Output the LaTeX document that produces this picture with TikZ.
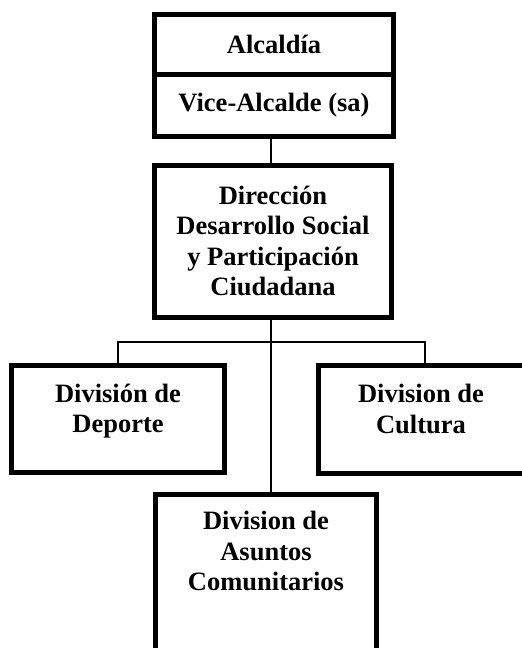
\documentclass[tikz,border=0pt]{standalone}
\usepackage{fontspec}
\setmainfont{Liberation Serif}
\begin{document}
\begin{tikzpicture}[x=1pt,y=-1pt,
  box/.style={draw=black,line width=5pt,inner sep=0pt,outer sep=0pt,rectangle},
  lbl/.style={font=\fontsize{26.5}{30.5}\selectfont\bfseries,align=center,inner sep=0pt},
  conn/.style={draw=black,line width=2pt}]
\useasboundingbox (0,0) rectangle (522,648);
% top box sections
\node[box,lbl,minimum width=239pt,minimum height=60pt] (alc) at (274,44.5) {Alcald\'{\i}a};
\node[box,lbl,minimum width=239pt,minimum height=62pt] (vice) at (274,105.5) {Vice-Alcalde (sa)};
% direction
\node[box,minimum width=237pt,minimum height=152pt] (dir) at (273,241.5) {};
\node[lbl] (dirt) at (273,241) {Direcci\'on\\Desarrollo Social\\y Participaci\'on\\Ciudadana};
% divisions
\node[box,minimum width=213pt,minimum height=107pt] (dep) at (118,419) {};
\node[lbl] (dept) at (118,411) {Divisi\'on de\\Deporte};
\node[box,minimum width=211.5pt,minimum height=108pt] (cul) at (424.25,419.5) {};
\node[lbl] (cult) at (421,409) {Division de\\Cultura};
\node[box,minimum width=221pt,minimum height=166pt] (asu) at (266,577.5) {};
\node[lbl] (asut) at (266,551) {Division de\\Asuntos\\Comunitarios};
% connectors
\coordinate (j) at (271,342);
\draw[conn] (vice.south -| j) -- (dir.north -| j);
\draw[conn] (dir.south -| j) -- (asu.north -| j);
\draw[conn] (dep.north) |- (j) -| (cul.north -| 425,0);
\end{tikzpicture}
\end{document}
